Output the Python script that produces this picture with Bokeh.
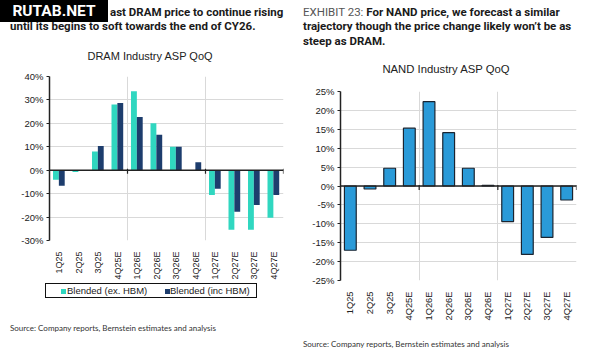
from math import pi
from bokeh.plotting import figure
from bokeh.layouts import row, column
from bokeh.models import (Range1d, FixedTicker, PrintfTickFormatter, Span, Div,
                          ColumnDataSource)
from bokeh.transform import dodge
from bokeh.embed import file_html
from bokeh.resources import INLINE

# ---------------- data ----------------
quarters = ["1Q25", "2Q25", "3Q25", "4Q25E", "1Q26E", "2Q26E", "3Q26E", "4Q26E",
            "1Q27E", "2Q27E", "3Q27E", "4Q27E"]
dram_ex_hbm = [-4.1, -0.8, 8.0, 28.1, 33.7, 20.0, 10.0, 0.0, -10.6, -25.4, -25.4, -20.3]
dram_inc_hbm = [-6.6, -0.2, 10.3, 28.7, 22.7, 15.1, 10.0, 3.4, -7.9, -17.7, -14.9, -10.6]
nand_qoq = [-17.0, -0.8, 4.7, 15.3, 22.3, 14.1, 4.7, 0.2, -9.4, -18.1, -13.6, -3.7]
dram_ticks = [-30, -20, -10, 0, 10, 20, 30, 40]
nand_ticks = [-25, -20, -15, -10, -5, 0, 5, 10, 15, 20, 25]
series_names = ["Blended (ex. HBM)", "Blended (inc HBM)"]

TEAL = "#30d7c0"
NAVY = "#1d3d6d"
BLUE = "#2a9ad8"
DARK = "#222222"
GRID = "#d9d9d9"
FONT = "Liberation Sans"

xs = list(range(len(quarters)))
year_bounds = [i - 0.5 for i in xs if i > 0 and i % 4 == 0] + [len(quarters) - 0.5]


def base_fig(height, fl, fr, ft, fb, ylo, yhi, ticks, lab_size):
    p = figure(width=300, height=height, output_backend="svg", toolbar_location=None,
               x_range=Range1d(-0.5, len(quarters) - 0.5), y_range=Range1d(ylo, yhi),
               min_border_left=fl, min_border_right=fr, min_border_top=ft,
               min_border_bottom=fb)
    p.outline_line_color = None
    p.background_fill_color = "white"
    p.xaxis.ticker = FixedTicker(ticks=xs)
    p.xaxis.major_label_overrides = {i: q for i, q in enumerate(quarters)}
    p.xaxis.major_label_orientation = pi / 2
    p.xaxis.axis_line_color = None
    p.xaxis.major_tick_line_color = None
    p.xaxis.minor_tick_line_color = None
    p.xaxis.major_label_standoff = 5
    p.xaxis.major_label_text_font = FONT
    p.xaxis.major_label_text_font_size = f"{lab_size}px"
    p.xaxis.major_label_text_color = DARK
    p.yaxis.ticker = FixedTicker(ticks=ticks)
    p.yaxis.formatter = PrintfTickFormatter(format="%d%%")
    p.yaxis.axis_line_color = DARK
    p.yaxis.axis_line_width = 1.5
    p.yaxis.major_tick_line_color = DARK
    p.yaxis.major_tick_in = 0
    p.yaxis.major_tick_out = 3
    p.yaxis.minor_tick_line_color = None
    p.yaxis.major_label_standoff = 3
    p.yaxis.major_label_text_font = FONT
    p.yaxis.major_label_text_font_size = "9.5px"
    p.yaxis.major_label_text_color = DARK
    p.xgrid.ticker = FixedTicker(ticks=year_bounds)
    p.xgrid.grid_line_color = GRID
    p.ygrid.grid_line_color = GRID
    p.add_layout(Span(location=0, dimension="width", line_color=DARK, line_width=1.5))
    p.scatter(x=year_bounds, y=[-0.4] * len(year_bounds), marker="dash", angle=pi / 2,
              size=5, line_color=DARK, line_width=1.2)
    return p


def span(left, top, txt, size, color="#1a1a1a", weight="bold", font="Roboto",
         extra=""):
    return (f'<span style="position:absolute;left:{left}px;top:{top}px;'
            f'font-family:{font};font-size:{size}px;line-height:{size + 2}px;'
            f'font-weight:{weight};color:{color};white-space:nowrap;{extra}">{txt}</span>')


def box(w, h, inner):
    return (f'<div style="position:relative;width:{w}px;height:{h}px;margin:0;'
            f'padding:0;overflow:visible;">{inner}</div>')


def swatch(left, color):
    return (f'<span style="position:absolute;left:{left}px;top:5px;width:5px;'
            f'height:5px;background:{color};"></span>')


# ---------------- left: DRAM ----------------
head1 = box(300, 70,
            '<div style="position:absolute;left:0;top:0;width:108px;height:22px;'
            'background:#000;color:#fff;font-family:Roboto;font-weight:bold;'
            'font-size:15.5px;line-height:22px;text-align:center;">RUTAB.NET</div>'
            + span(110, 6, "ast DRAM price to continue rising", 11.5)
            + span(10, 20, "until its begins to soft towards the end of CY26.", 11.5)
            + span(150, 50, "DRAM Industry ASP QoQ", 11, color=DARK, weight="normal",
                   font=FONT, extra="transform:translateX(-50%);"))
div_h1 = Div(text=head1, width=300, height=70, margin=0)

p1 = base_fig(212, 49, 17, 6, 42, -30, 40, dram_ticks, 9)
src1 = ColumnDataSource(dict(x=xs, ex=dram_ex_hbm, inc=dram_inc_hbm))
p1.vbar(x=dodge("x", -0.17), top="ex", bottom=0, width=0.3, source=src1,
        fill_color=TEAL, line_color=None)
p1.vbar(x=dodge("x", 0.13), top="inc", bottom=0, width=0.3, source=src1,
        fill_color=NAVY, line_color=None)

legend_html = box(300, 22,
                  '<div style="position:absolute;left:45px;top:1px;width:212px;'
                  'height:15px;border:1.5px solid #111;">'
                  + swatch(15, TEAL)
                  + span(21, 1, series_names[0], 9.5, color=DARK, weight="normal",
                         font=FONT)
                  + swatch(119, NAVY)
                  + span(124, 1, series_names[1], 9.5, color=DARK, weight="normal",
                         font=FONT)
                  + '</div>')
div_leg = Div(text=legend_html, width=300, height=22, margin=0)

src_txt = "Source: Company reports, Bernstein estimates and analysis"
div_s1 = Div(text=box(300, 50, span(10, 19, src_txt, 8, color="#333333",
                                    weight="normal", font="Lato")),
             width=300, height=50, margin=0)

# ---------------- right: NAND ----------------
head2 = box(300, 84,
            span(3, 6, '<span style="font-weight:normal;color:#555555">EXHIBIT 23:</span> '
                 'For NAND price, we forecast a similar', 11.5)
            + span(3, 20, "trajectory though the price change likely won\u2019t be as", 11.5)
            + span(3, 35, "steep as DRAM.", 11.5)
            + span(146, 63, "NAND Industry ASP QoQ", 11.3, color=DARK, weight="normal",
                   font=FONT, extra="transform:translateX(-50%);"))
div_h2 = Div(text=head2, width=300, height=84, margin=0)

p2 = base_fig(240, 40, 24, 7, 44, -25, 25, nand_ticks, 9.3)
src2 = ColumnDataSource(dict(x=xs, v=nand_qoq))
p2.vbar(x="x", top="v", bottom=0, width=0.6, source=src2, fill_color=BLUE,
        line_color="#1b2430", line_width=1.2)

div_s2 = Div(text=box(300, 30, span(3, 15, src_txt, 8, color="#333333",
                                    weight="normal", font="Lato")),
             width=300, height=30, margin=0)

layout = row(column(div_h1, p1, div_leg, div_s1, spacing=0),
             column(div_h2, p2, div_s2, spacing=0), spacing=0)
open("out.html", "w").write(file_html(layout, INLINE))
